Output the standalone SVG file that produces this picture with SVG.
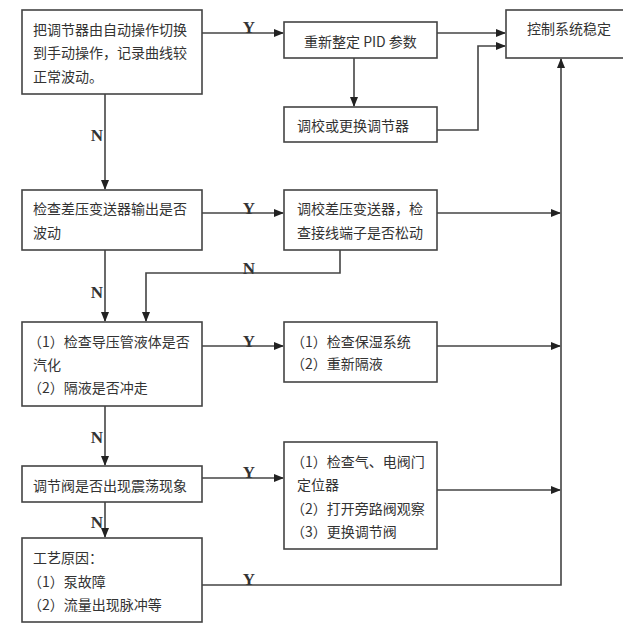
<svg xmlns="http://www.w3.org/2000/svg" width="623" height="626" viewBox="0 0 623 626">
<defs>
<marker id="ah" markerWidth="10" markerHeight="8" refX="9" refY="4" orient="auto" markerUnits="userSpaceOnUse">
<path d="M0,0 L10,4 L0,8 Z" fill="#222"/>
</marker>
<style>
.box{fill:#fff;stroke:#444;stroke-width:1.6}
.t{font-family:"Noto Sans CJK SC","Noto Sans",sans-serif;font-size:14px;fill:#333}
.c{fill:none;stroke:#444;stroke-width:1.6}
.a{marker-end:url(#ah)}
.lb{font-family:"Liberation Serif","DejaVu Serif",serif;font-weight:bold;font-size:17px;fill:#333;text-anchor:middle}
</style>
</defs>
<rect width="623" height="626" fill="#fff"/>
<g id="connectors">
<path class="c a" d="M202,33 H283"/>
<path class="c a" d="M437,33 H505"/>
<path class="c a" d="M354,58 V106"/>
<path class="c a" d="M437,130 H478 V46 H505"/>
<path class="c a" d="M105,94 V189"/>
<path class="c a" d="M202,213 H283"/>
<path class="c a" d="M437,213 H560"/>
<path class="c a" d="M340,250 V273 H146 V321"/>
<path class="c a" d="M105,250 V321"/>
<path class="c a" d="M202,346 H283"/>
<path class="c a" d="M437,346 H560"/>
<path class="c a" d="M105,406 V465"/>
<path class="c a" d="M202,478 H283"/>
<path class="c a" d="M437,490 H560"/>
<path class="c a" d="M105,502 V537"/>
<path class="c a" d="M202,585 H561 V59"/>
<text class="lb" x="249" y="33">Y</text>
<text class="lb" x="249" y="214">Y</text>
<text class="lb" x="249" y="347">Y</text>
<text class="lb" x="249" y="478">Y</text>
<text class="lb" x="249" y="585">Y</text>
<text class="lb" x="97" y="141">N</text>
<text class="lb" x="97" y="298">N</text>
<text class="lb" x="249" y="274">N</text>
<text class="lb" x="97" y="443">N</text>
<text class="lb" x="97" y="528">N</text>
</g>
<g id="n1"><rect class="box" x="22" y="10" width="180" height="84"/>
<text class="t" x="33" y="35">把调节器由自动操作切换</text>
<text class="t" x="33" y="58">到手动操作，记录曲线较</text>
<text class="t" x="33" y="82">正常波动。</text></g>
<g id="n2"><rect class="box" x="284" y="22" width="153" height="36"/>
<text class="t" x="304" y="47">重新整定 PID 参数</text></g>
<g id="n3"><rect class="box" x="284" y="107" width="153" height="35"/>
<text class="t" x="297" y="131">调校或更换调节器</text></g>
<g id="n4"><rect class="box" x="506" y="10" width="130" height="48"/>
<text class="t" x="527" y="34">控制系统稳定</text></g>
<g id="n5"><rect class="box" x="22" y="190" width="180" height="60"/>
<text class="t" x="33" y="214">检查差压变送器输出是否</text>
<text class="t" x="33" y="238">波动</text></g>
<g id="n6"><rect class="box" x="284" y="190" width="153" height="60"/>
<text class="t" x="297" y="214">调校差压变送器，检</text>
<text class="t" x="297" y="238">查接线端子是否松动</text></g>
<g id="n7"><rect class="box" x="22" y="322" width="180" height="84"/>
<text class="t" x="28" y="347">（1）检查导压管液体是否</text>
<text class="t" x="33" y="370">汽化</text>
<text class="t" x="28" y="393">（2）隔液是否冲走</text></g>
<g id="n8"><rect class="box" x="284" y="322" width="153" height="60"/>
<text class="t" x="291" y="347">（1）检查保湿系统</text>
<text class="t" x="291" y="369">（2）重新隔液</text></g>
<g id="n9"><rect class="box" x="22" y="466" width="180" height="36"/>
<text class="t" x="33" y="491">调节阀是否出现震荡现象</text></g>
<g id="n10"><rect class="box" x="284" y="442" width="153" height="107"/>
<text class="t" x="291" y="467">（1）检查气、电阀门</text>
<text class="t" x="297" y="490">定位器</text>
<text class="t" x="291" y="514">（2）打开旁路阀观察</text>
<text class="t" x="291" y="537">（3）更换调节阀</text></g>
<g id="n11"><rect class="box" x="22" y="538" width="180" height="84"/>
<text class="t" x="33" y="563">工艺原因：</text>
<text class="t" x="28" y="587">（1）泵故障</text>
<text class="t" x="28" y="610">（2）流量出现脉冲等</text></g>
</svg>
